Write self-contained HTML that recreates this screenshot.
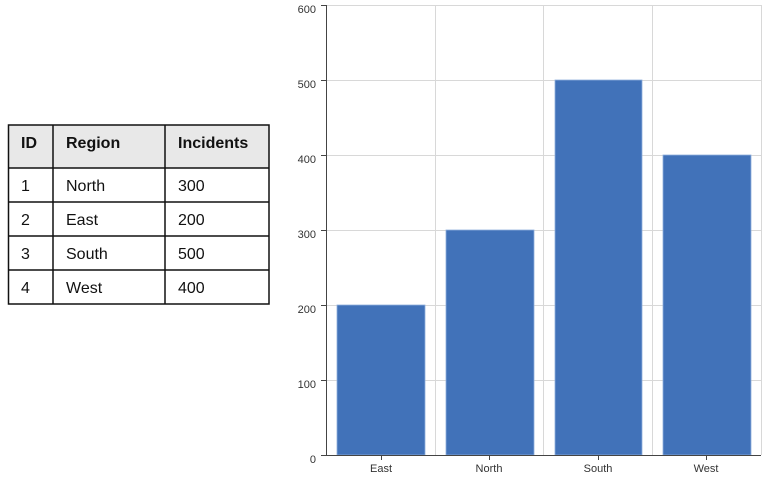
<!DOCTYPE html>
<html><head><meta charset="utf-8"><style>
html,body{margin:0;padding:0;background:#fff;}
svg{display:block;font-family:"Liberation Sans",sans-serif;}
</style></head><body>
<svg width="767" height="478" viewBox="0 0 767 478">
<!-- table -->
<rect x="8" y="125" width="261" height="43" fill="#e8e8e8"/>
<g stroke="#111" stroke-width="1.5" fill="none">
<rect x="8.5" y="125" width="260.5" height="179"/>
<line x1="53" y1="125" x2="53" y2="304"/>
<line x1="165" y1="125" x2="165" y2="304"/>
<line x1="8" y1="168" x2="269" y2="168"/>
<line x1="8" y1="202" x2="269" y2="202"/>
<line x1="8" y1="236" x2="269" y2="236"/>
<line x1="8" y1="270" x2="269" y2="270"/>
</g>
<g font-size="16" fill="#111">
<text x="21" y="148" font-weight="bold">ID</text>
<text x="66" y="148" font-weight="bold">Region</text>
<text x="178" y="148" font-weight="bold">Incidents</text>
<text x="21" y="191">1</text><text x="66" y="191">North</text><text x="178" y="191">300</text>
<text x="21" y="225">2</text><text x="66" y="225">East</text><text x="178" y="225">200</text>
<text x="21" y="259">3</text><text x="66" y="259">South</text><text x="178" y="259">500</text>
<text x="21" y="293">4</text><text x="66" y="293">West</text><text x="178" y="293">400</text>
</g>
<!-- grid -->
<g stroke="#d8d8d8" stroke-width="1">
<line x1="326" y1="5.5" x2="761" y2="5.5"/>
<line x1="326" y1="80.5" x2="761" y2="80.5"/>
<line x1="326" y1="155.5" x2="761" y2="155.5"/>
<line x1="326" y1="230.5" x2="761" y2="230.5"/>
<line x1="326" y1="305.5" x2="761" y2="305.5"/>
<line x1="326" y1="380.5" x2="761" y2="380.5"/>
<line x1="435.5" y1="5" x2="435.5" y2="455"/>
<line x1="543.5" y1="5" x2="543.5" y2="455"/>
<line x1="652.5" y1="5" x2="652.5" y2="455"/>
<line x1="761.5" y1="5" x2="761.5" y2="455"/>
</g>
<!-- bars -->
<g fill="#4172b9" stroke="#8fb0dd" stroke-width="0.8">
<rect x="337" y="305" width="88" height="150"/>
<rect x="446" y="230" width="88" height="225"/>
<rect x="555" y="80" width="87" height="375"/>
<rect x="663" y="155" width="88" height="300"/>
</g>
<!-- axes -->
<g stroke="#444" stroke-width="1">
<line x1="326.5" y1="5" x2="326.5" y2="455"/>
<line x1="326" y1="455.5" x2="761" y2="455.5"/>
<line x1="321" y1="5.5" x2="326" y2="5.5"/>
<line x1="321" y1="80.5" x2="326" y2="80.5"/>
<line x1="321" y1="155.5" x2="326" y2="155.5"/>
<line x1="321" y1="230.5" x2="326" y2="230.5"/>
<line x1="321" y1="305.5" x2="326" y2="305.5"/>
<line x1="321" y1="380.5" x2="326" y2="380.5"/>
<line x1="321" y1="455.5" x2="326" y2="455.5"/>
<line x1="381.5" y1="455" x2="381.5" y2="460"/>
<line x1="489.5" y1="455" x2="489.5" y2="460"/>
<line x1="598.5" y1="455" x2="598.5" y2="460"/>
<line x1="706.5" y1="455" x2="706.5" y2="460"/>
</g>
<g font-size="11" fill="#333" text-anchor="end">
<text x="316" y="13">600</text>
<text x="316" y="88">500</text>
<text x="316" y="163">400</text>
<text x="316" y="238">300</text>
<text x="316" y="313">200</text>
<text x="316" y="388">100</text>
<text x="316" y="463">0</text>
</g>
<g font-size="11" fill="#333" text-anchor="middle">
<text x="381" y="472">East</text>
<text x="489" y="472">North</text>
<text x="598" y="472">South</text>
<text x="706" y="472">West</text>
</g>
</svg>
</body></html>
